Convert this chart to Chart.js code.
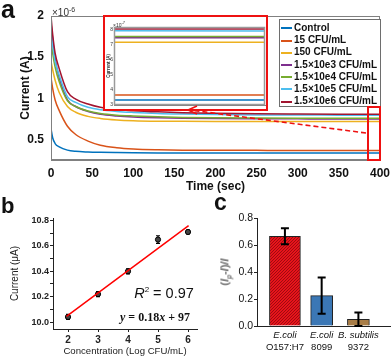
<!DOCTYPE html>
<html>
<head>
<meta charset="utf-8">
<title>Corriente vs tiempo</title>
<script src="https://cdn.jsdelivr.net/npm/chart.js@4.4.1/dist/chart.umd.min.js"></script>
<style>
  body { margin: 0; background: #fff; }
  #figura { position: relative; width: 392px; height: 358px; overflow: hidden; background: #fff;
            font-family: "Liberation Sans", Arial, sans-serif; color: #111; }
  #figura canvas, #figura .txt, #figura svg { position: absolute; }
  .txt { line-height: 1; white-space: nowrap; }
  .centro { transform: translate(-50%, -50%); }
  .letra { font-weight: bold; }
  #leyenda { position: absolute; left: 279px; top: 19px; width: 100px; height: 86px; border: 1px solid #6e6e6e;
             background: #fff; font: bold 10px "Liberation Sans", Arial, sans-serif; }
  #leyenda div { position: absolute; left: 1px; height: 12px; line-height: 12px; white-space: nowrap; }
  #leyenda i { display: inline-block; width: 11px; height: 2px; vertical-align: middle; margin-right: 2px; }
  #insetBox { position: absolute; left: 103px; top: 15px; width: 161px; height: 92px; border: 2px solid #ee1111; background: #fff; }
</style>
</head>
<body>
<div id="figura">
  <canvas id="graficoA" style="left:0;top:0" width="392" height="200"></canvas>
  <div id="insetBox"><canvas id="graficoInset" style="left:0;top:0" width="161" height="92"></canvas>
    <div class="txt" style="left:8px;top:4px;font-size:5px;color:#333">×10<sup style="font-size:4px">-7</sup></div>
  </div>
  <div id="leyenda"></div>
  <svg width="392" height="200" style="left:0;top:0">
    <rect x="368" y="107" width="12" height="53" fill="none" stroke="#ee1111" stroke-width="2"/>
    <line x1="366" y1="133" x2="190" y2="110" stroke="#ee1111" stroke-width="1.6" stroke-dasharray="5,3"/>
    <polyline points="197,106 188,110 197,114" fill="none" stroke="#ee1111" stroke-width="1.6"/>
  </svg>
  <canvas id="graficoB" style="left:0;top:200px" width="210" height="158"></canvas>
  <canvas id="graficoC" style="left:200px;top:200px" width="192" height="158"></canvas>

  <div class="txt letra" style="left:1px;top:-3px;font-size:25px">a</div>
  <div class="txt letra" style="left:1px;top:195px;font-size:22px">b</div>
  <div class="txt letra" style="left:214px;top:191px;font-size:23px">c</div>
  <div class="txt" style="left:52px;top:6px;font-size:10px;color:#333">×10<sup style="font-size:7px">-6</sup></div>
  <div class="txt centro" style="left:164px;top:293px;font-size:14.5px"><i>R</i><sup style="font-size:8px">2</sup> = 0.97</div>
  <div class="txt centro" style="left:155px;top:317px;font:bold 12px 'Liberation Serif', serif"><i>y</i> = 0.18<i>x</i> + 97</div>
  <div class="txt centro" style="left:226px;top:272px;font-size:11px;transform:translate(-50%,-50%) rotate(-90deg)">(<i>I<sub style="font-size:7px">p</sub></i>-<i>I</i>)/<i>I</i></div>
</div>

<script>
( function() {

    const SANS = '"Liberation Sans", Arial, sans-serif';
    Chart.defaults.font.family = SANS;
    Chart.defaults.color = '#111';

    // ---- panel a: corriente (x10^-6 A) vs tiempo (s) ----
    const tiempo = [0, 2, 5, 10, 20, 30, 45, 60, 80, 100, 130, 160, 200, 250, 300, 350, 400];
    const nombresSeries = ['Control', '15 CFU/mL', '150 CFU/mL', '1.5×10e3 CFU/mL', '1.5×10e4 CFU/mL', '1.5×10e5 CFU/mL', '1.5×10e6 CFU/mL'];
    const coloresSeries = ['#0072BD', '#D95319', '#EDB120', '#7E2F8E', '#77AC30', '#4DBEEE', '#A2142F'];
    const corrControl = [0.63, 0.52, 0.45, 0.41, 0.37, 0.355, 0.347, 0.343, 0.34, 0.338, 0.336, 0.335, 0.334, 0.334, 0.334, 0.334, 0.334];
    const corr15 = [1.25, 1.12, 0.98, 0.85, 0.66, 0.56, 0.48, 0.43, 0.40, 0.385, 0.375, 0.37, 0.368, 0.367, 0.366, 0.366, 0.366];
    const corr150 = [1.45, 1.35, 1.22, 1.07, 0.90, 0.83, 0.78, 0.755, 0.737, 0.728, 0.722, 0.72, 0.719, 0.719, 0.719, 0.719, 0.719];
    const corr1e3 = [1.92, 1.72, 1.48, 1.25, 0.98, 0.90, 0.84, 0.805, 0.785, 0.773, 0.763, 0.757, 0.753, 0.751, 0.75, 0.749, 0.749];
    const corr1e4 = [1.70, 1.55, 1.38, 1.20, 0.97, 0.90, 0.845, 0.815, 0.795, 0.785, 0.775, 0.768, 0.763, 0.76, 0.758, 0.757, 0.757];
    const corr1e5 = [1.80, 1.65, 1.45, 1.28, 1.02, 0.95, 0.89, 0.86, 0.84, 0.828, 0.815, 0.808, 0.802, 0.798, 0.796, 0.795, 0.794];
    const corr1e6 = [2.00, 1.78, 1.55, 1.36, 1.08, 0.99, 0.93, 0.89, 0.865, 0.85, 0.835, 0.825, 0.818, 0.812, 0.809, 0.807, 0.806];
    const seriesCorriente = [corrControl, corr15, corr150, corr1e3, corr1e4, corr1e5, corr1e6];
    const ticksTiempo = [0, 50, 100, 150, 200, 250, 300, 350, 400];
    const ticksCorriente = [0.5, 1, 1.5, 2];
    const ticksInset = [0.3, 0.4, 0.5, 0.6, 0.7, 0.8];

    // ---- panel b: curva de calibracion ----
    const concLog = [2, 3, 4, 5, 6];
    const corrMedia = [10.04, 10.22, 10.40, 10.65, 10.71];
    const corrError = [0.02, 0.02, 0.02, 0.03, 0.015];
    const ajusteX = [1.95, 6.02];
    const ajusteY = [10.045, 10.76];
    const ticksConc = [2, 3, 4, 5, 6];
    const ticksCorrB = [10.0, 10.1, 10.2, 10.3, 10.4, 10.5, 10.6, 10.7, 10.8];

    // ---- panel c: selectividad ----
    const cepas = [['E.coli', 'O157:H7'], ['E.coli', '8099'], ['B. subtilis', '9372']];
    const razon = [0.665, 0.225, 0.05];
    const razonError = [0.06, 0.135, 0.05];
    const ticksRazon = [0, 0.2, 0.4, 0.6, 0.8];

    const fijarTicks = lista => scale => { scale.ticks = lista.map(v => ({ value: v })); };
    const sinRelleno = alto => s => { s.height = alto; s.paddingLeft = 0; s.paddingRight = 0; };

    const marco = {
        id: 'marco',
        afterDraw(chart, args, opts) {
            const { ctx, chartArea: a } = chart;
            ctx.save();
            ctx.strokeStyle = opts.color || '#777';
            ctx.lineWidth = opts.width || 1;
            ctx.strokeRect(a.left + 0.5, a.top + 0.5, a.width - 1, a.height - 1);
            ctx.restore();
        }
    };

    function barrasError(xs, ys, errs, semiCap, grosor, fase) {
        const dibujar = chart => {
            const { ctx, scales: { x, y } } = chart;
            ctx.save();
            ctx.strokeStyle = '#000';
            ctx.lineWidth = grosor;
            xs.forEach((xv, i) => {
                const px = x.getPixelForValue(xv);
                const arriba = y.getPixelForValue(ys[i] + errs[i]);
                const abajo = y.getPixelForValue(ys[i] - errs[i]);
                ctx.beginPath();
                ctx.moveTo(px, arriba); ctx.lineTo(px, abajo);
                ctx.moveTo(px - semiCap, arriba); ctx.lineTo(px + semiCap, arriba);
                ctx.moveTo(px - semiCap, abajo); ctx.lineTo(px + semiCap, abajo);
                ctx.stroke();
            });
            ctx.restore();
        };
        const plugin = { id: 'barrasError' };
        plugin[fase] = dibujar;
        return plugin;
    }

    function datasetsCorriente() {
        return seriesCorriente.map((serie, i) => ({
            label: nombresSeries[i],
            data: serie.map((v, j) => ({ x: tiempo[j], y: v })),
            borderColor: coloresSeries[i],
            borderWidth: 1.5,
            pointRadius: 0,
            cubicInterpolationMode: 'monotone',
            order: seriesCorriente.length - 1 - i
        }));
    }

    // leyenda del panel a
    const leyenda = document.querySelector('#leyenda');
    nombresSeries.forEach((nombre, i) => {
        const fila = document.createElement('div');
        fila.style.top = (2 + i * 12.2) + 'px';
        fila.innerHTML = '<i style="background:' + coloresSeries[i] + '"></i>' + nombre;
        leyenda.appendChild(fila);
    });

    new Chart(document.getElementById('graficoA'), {
        type: 'line',
        data: { datasets: datasetsCorriente() },
        options: {
            responsive: false, animation: false, events: [],
            layout: { padding: { left: 0, right: 12, top: 16, bottom: 0 } },
            plugins: { legend: { display: false }, tooltip: { enabled: false }, marco: { color: '#808080' } },
            scales: {
                x: {
                    type: 'linear', min: 0, max: 400,
                    afterBuildTicks: fijarTicks(ticksTiempo),
                    afterFit: sinRelleno(40),
                    grid: { display: false, drawTicks: false },
                    border: { color: '#808080' },
                    ticks: { padding: 6, maxRotation: 0, font: { size: 12, weight: 'bold' }, color: '#111' },
                    title: { display: true, text: 'Time (sec)', font: { size: 12, weight: 'bold' }, color: '#111', padding: { top: 0, bottom: 6 } }
                },
                y: {
                    min: 0.25, max: 2.0,
                    afterBuildTicks: fijarTicks(ticksCorriente),
                    afterFit: s => { s.width = 51; },
                    grid: { display: false, drawTicks: false },
                    border: { color: '#808080' },
                    ticks: { padding: 7, font: { size: 12, weight: 'bold' }, color: '#111', callback: v => String(v) },
                    title: { display: true, text: 'Current (A)', font: { size: 12, weight: 'bold' }, color: '#111', padding: { top: 18, bottom: 0 } }
                }
            }
        },
        plugins: [marco]
    });

    new Chart(document.getElementById('graficoInset'), {
        type: 'line',
        data: { datasets: datasetsCorriente() },
        options: {
            responsive: false, animation: false, events: [],
            layout: { padding: { left: 0, right: 1, top: 10, bottom: 0 } },
            plugins: { legend: { display: false }, tooltip: { enabled: false }, marco: { color: '#9a9a9a', width: 1.5 } },
            scales: {
                x: {
                    type: 'linear', min: 385, max: 400,
                    afterFit: sinRelleno(1),
                    grid: { display: false, drawTicks: false },
                    border: { color: '#808080' },
                    ticks: { display: false }
                },
                y: {
                    min: 0.3, max: 0.82,
                    afterBuildTicks: fijarTicks(ticksInset),
                    afterFit: s => { s.width = 9; },
                    grid: { display: false, drawTicks: false },
                    border: { color: '#808080' },
                    ticks: { padding: 1, font: { size: 5 }, color: '#333', callback: v => String(Math.round(v * 10)) },
                    title: { display: true, text: 'Current (A)', font: { size: 4.5, weight: 'bold' }, color: '#333', padding: { top: 1, bottom: 0 } }
                }
            }
        },
        plugins: [marco]
    });

    new Chart(document.getElementById('graficoB'), {
        type: 'scatter',
        data: {
            datasets: [
                {
                    label: 'Ajuste',
                    data: ajusteX.map((x, i) => ({ x: x, y: ajusteY[i] })),
                    showLine: true, borderColor: '#ff0000', borderWidth: 1.5, pointRadius: 0
                },
                {
                    label: 'Corriente',
                    data: concLog.map((x, i) => ({ x: x, y: corrMedia[i] })),
                    pointRadius: 2.6, pointBackgroundColor: '#444', pointBorderColor: '#000', pointBorderWidth: 1
                }
            ]
        },
        options: {
            responsive: false, animation: false, events: [],
            layout: { padding: { left: 0, right: 13, top: 18, bottom: 0 } },
            plugins: { legend: { display: false }, tooltip: { enabled: false } },
            scales: {
                x: {
                    type: 'linear', min: 1.5, max: 6.3,
                    afterBuildTicks: fijarTicks(ticksConc),
                    afterFit: sinRelleno(29),
                    grid: { drawOnChartArea: false, tickLength: 3, color: '#222' },
                    border: { color: '#222' },
                    ticks: { padding: 2, maxRotation: 0, font: { size: 10, weight: 'bold' }, color: '#222' },
                    title: { display: true, text: 'Concentration (Log CFU/mL)', font: { size: 9.6 }, color: '#222', padding: { top: 0, bottom: 1 } }
                },
                y: {
                    min: 9.945, max: 10.82,
                    afterBuildTicks: fijarTicks(ticksCorrB),
                    afterFit: s => { s.width = 53; },
                    grid: { drawOnChartArea: false, tickLength: 3, color: '#222' },
                    border: { color: '#222' },
                    ticks: {
                        padding: 1, font: { size: 9, weight: 'bold' }, color: '#222',
                        callback: v => (Math.round(v * 10) % 2 === 0 ? v.toFixed(1) : '')
                    },
                    title: { display: true, text: 'Current (μA)', font: { size: 10 }, color: '#222', padding: { top: 9, bottom: 0 } }
                }
            }
        },
        plugins: [barrasError(concLog, corrMedia, corrError, 2, 1.2, 'beforeDatasetsDraw')]
    });

    // textura punteada de la barra roja
    function tramaRoja() {
        const c = document.createElement('canvas');
        c.width = 3; c.height = 3;
        const g = c.getContext('2d');
        g.fillStyle = '#e8141b';
        g.fillRect(0, 0, 3, 3);
        g.fillStyle = '#a00a10';
        g.fillRect(0, 0, 1, 1);
        g.fillRect(2, 1, 1, 1);
        g.fillRect(1, 2, 1, 1);
        return g.createPattern(c, 'repeat');
    }

    const etiquetasCepas = {
        id: 'etiquetasCepas',
        afterDraw(chart) {
            const { ctx, scales: { x, y } } = chart;
            ctx.save();
            ctx.fillStyle = '#111';
            ctx.textAlign = 'center';
            ctx.textBaseline = 'middle';
            cepas.forEach((lineas, i) => {
                const px = x.getPixelForValue(i + 1);
                ctx.font = 'italic 9.5px ' + SANS;
                ctx.fillText(lineas[0], px, y.bottom + 9);
                ctx.font = '9.5px ' + SANS;
                ctx.fillText(lineas[1], px, y.bottom + 21);
            });
            ctx.restore();
        }
    };

    const puntosRazon = razon.map((v, i) => ({ x: i + 1, y: v }));

    new Chart(document.getElementById('graficoC'), {
        type: 'bar',
        data: {
            datasets: [
                {
                    label: cepas[0].join(' '),
                    data: puntosRazon.slice(0, 1),
                    backgroundColor: tramaRoja(),
                    borderColor: '#222', borderWidth: 1, barThickness: 31, grouped: false
                },
                {
                    label: 'otras',
                    data: puntosRazon.slice(1),
                    backgroundColor: ['#3b77b5', '#a87d47'],
                    borderColor: '#222', borderWidth: 1, barThickness: 22, grouped: false
                }
            ]
        },
        options: {
            responsive: false, animation: false, events: [],
            layout: { padding: { left: 0, right: 2, top: 18, bottom: 0 } },
            plugins: { legend: { display: false }, tooltip: { enabled: false } },
            scales: {
                x: {
                    type: 'linear', min: 0.24, max: 3.86, offset: false,
                    afterFit: sinRelleno(32),
                    grid: { display: false, drawTicks: false },
                    border: { color: '#222' },
                    ticks: { display: false }
                },
                y: {
                    min: 0, max: 0.8,
                    afterBuildTicks: fijarTicks(ticksRazon),
                    afterFit: s => { s.width = 57; },
                    grid: { drawOnChartArea: false, tickLength: 3, color: '#222' },
                    border: { color: '#222' },
                    ticks: { padding: 1, font: { size: 10.5 }, color: '#111', callback: v => v.toFixed(1) }
                }
            }
        },
        plugins: [barrasError(razon.map((v, i) => i + 1), razon, razonError, 4, 2, 'afterDatasetsDraw'), etiquetasCepas]
    });

})();
</script>
</body>
</html>
